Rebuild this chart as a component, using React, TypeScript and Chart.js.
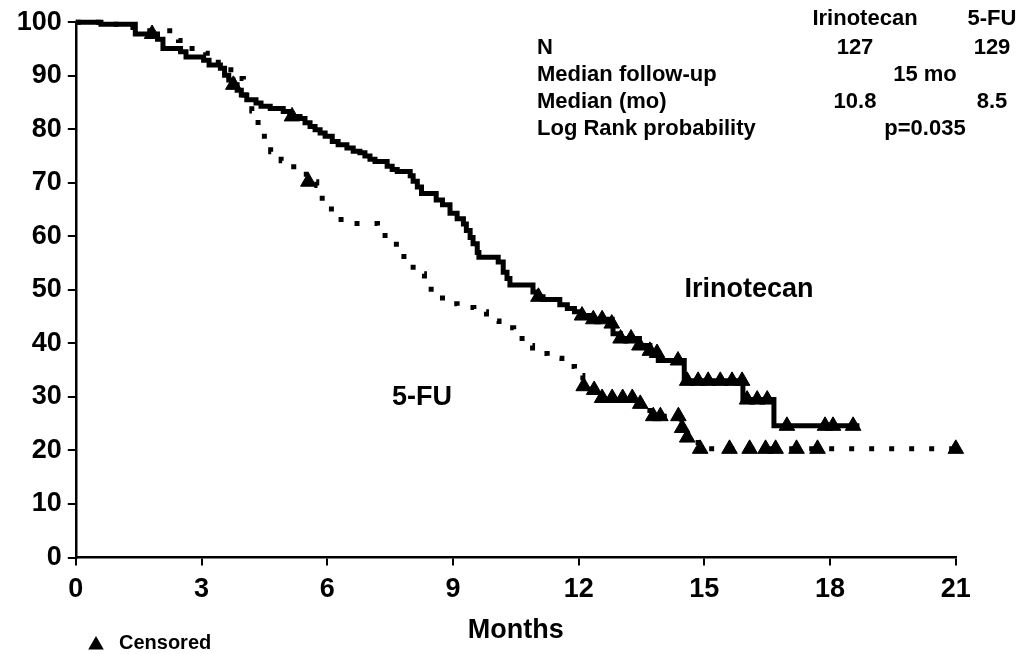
import React, { useEffect, useRef } from "react";
import { Chart, registerables } from "chart.js";

Chart.register(...registerables);

// Irinotecan Kaplan-Meier steps (months, % progression-free)
const irinoTimes = [0, 0.6, 1.42, 1.95, 2.08, 2.5, 2.63, 3.05, 3.18, 3.45, 3.55, 3.65, 3.75, 3.85, 3.95, 4.08, 4.3, 4.42, 4.64, 4.95, 5.11, 5.35, 5.47, 5.59, 5.71, 5.83, 5.95, 6.12, 6.26, 6.47, 6.62, 6.78, 6.9, 7.02, 7.14, 7.43, 7.55, 7.67, 7.98, 8.05, 8.15, 8.25, 8.6, 8.75, 8.93, 9.1, 9.25, 9.32, 9.41, 9.48, 9.58, 9.62, 10.08, 10.2, 10.29, 10.36, 10.91, 11.0, 11.15, 11.55, 11.73, 11.9, 12.05, 12.3, 12.8, 12.82, 13.0, 13.45, 13.7, 13.87, 13.9, 14.52, 15.92, 16.66, 18.7];
const irinoValues = [100, 99.6, 97.8, 96.8, 95.1, 94.5, 93.5, 92.9, 92.0, 91.4, 90.1, 89.2, 88.3, 87.3, 86.4, 85.5, 84.9, 84.3, 83.9, 83.3, 82.4, 82.0, 81.2, 80.5, 79.9, 79.3, 78.7, 77.7, 77.1, 76.5, 75.9, 75.6, 75.0, 74.4, 74.0, 73.1, 72.5, 72.1, 71.3, 70.3, 69.2, 68.0, 66.8, 65.9, 64.3, 63.3, 62.3, 61.1, 59.8, 58.6, 57.0, 56.1, 55.2, 53.3, 52.1, 50.9, 49.6, 48.7, 48.2, 47.2, 46.5, 45.9, 45.2, 44.5, 43.7, 41.8, 40.9, 39.6, 38.6, 38.2, 36.8, 33.0, 29.5, 24.6, 24.6];

// 5-FU Kaplan-Meier steps
const fuTimes = [0, 0.6, 1.3, 1.6, 2.45, 2.7, 3.1, 3.4, 3.7, 4.0, 4.2, 4.35, 4.5, 4.65, 4.9, 5.2, 5.5, 5.75, 5.88, 6.1, 6.33, 7.2, 7.38, 7.65, 7.83, 8.05, 8.32, 8.48, 8.75, 9.1, 9.5, 9.8, 10.1, 10.45, 10.65, 10.9, 11.25, 11.6, 11.9, 12.1, 12.3, 12.5, 13.4, 13.7, 14.45, 14.58, 14.85, 21];
const fuValues = [100, 99.6, 99.0, 98.4, 96.6, 95.1, 94.2, 92.5, 89.5, 86.4, 83.4, 80.8, 78.2, 75.8, 74.1, 73.0, 70.2, 69.5, 66.5, 64.5, 62.4, 61.7, 59.3, 57.8, 55.2, 53.0, 51.3, 49.1, 47.4, 46.7, 45.9, 44.2, 42.9, 41.8, 39.6, 38.1, 37.2, 35.7, 34.0, 32.0, 31.3, 29.8, 28.7, 26.4, 24.2, 22.4, 20.3, 20.3];

// Censored observations
const irinoCensTimes = [1.82, 3.76, 5.16, 11.04, 12.08, 12.35, 12.56, 12.79, 13.0, 13.25, 13.45, 13.7, 13.87, 14.37, 14.59, 14.85, 15.09, 15.38, 15.66, 15.9, 16.02, 16.26, 16.5, 16.97, 17.88, 18.07, 18.55];
const irinoCensValues = [97.8, 88.3, 82.4, 48.7, 45.2, 44.5, 44.5, 43.7, 40.9, 40.9, 39.6, 38.6, 38.2, 36.8, 33.0, 33.0, 33.0, 33.0, 33.0, 33.0, 29.5, 29.5, 29.5, 24.6, 24.6, 24.6, 24.6];
const fuCensTimes = [5.55, 12.12, 12.37, 12.56, 12.8, 13.05, 13.28, 13.47, 13.78, 13.95, 14.38, 14.47, 14.59, 14.9, 15.6, 16.08, 16.46, 16.7, 17.2, 17.7, 21.0];
const fuCensValues = [70.2, 32.0, 31.3, 29.8, 29.8, 29.8, 29.8, 28.7, 26.4, 26.4, 26.4, 24.2, 22.4, 20.3, 20.3, 20.3, 20.3, 20.3, 20.3, 20.3, 20.3];

// Table text
const tableHeaders = ["Irinotecan", "5-FU"];
const tableRows = ["N", "Median follow-up", "Median (mo)", "Log Rank probability"];
const tableCells = [["127", "129"], ["15 mo"], ["10.8", "8.5"], ["p=0.035"]];

const FONT = "'Liberation Sans', Arial, Helvetica, sans-serif";

const toXY = (xs: number[], ys: number[]) => xs.map((x, i) => ({ x, y: ys[i] }));

export default function App() {
  const ref = useRef<HTMLCanvasElement | null>(null);

  useEffect(() => {
    if (!ref.current) return;
    const annot = {
      id: "annot",
      afterDraw(chart: any) {
        const ctx = chart.ctx as CanvasRenderingContext2D;
        ctx.save();
        ctx.fillStyle = "#000";
        ctx.textBaseline = "middle";
        ctx.font = `bold 22px ${FONT}`;
        ctx.textAlign = "center";
        ctx.fillText(tableHeaders[0], 865, 19);
        ctx.fillText(tableHeaders[1], 992, 19);
        const rowY = [48, 75, 102, 129];
        ctx.textAlign = "left";
        tableRows.forEach((r, i) => ctx.fillText(r, 537, rowY[i]));
        ctx.textAlign = "center";
        tableCells.forEach((cells, i) => {
          if (cells.length === 2) {
            ctx.fillText(cells[0], 855, rowY[i]);
            ctx.fillText(cells[1], 992, rowY[i]);
          } else {
            ctx.fillText(cells[0], 925, rowY[i]);
          }
        });
        ctx.font = `bold 27px ${FONT}`;
        ctx.fillText("Irinotecan", 749, 290);
        ctx.fillText("5-FU", 422, 398);
        const tx = 96, ty = 645, r = 9;
        ctx.beginPath();
        ctx.moveTo(tx, ty - r);
        ctx.lineTo(tx + r * 0.866, ty + r / 2);
        ctx.lineTo(tx - r * 0.866, ty + r / 2);
        ctx.closePath();
        ctx.fill();
        ctx.font = `bold 20px ${FONT}`;
        ctx.textAlign = "left";
        ctx.fillText("Censored", 119, 643);
        ctx.restore();
      },
    };

    const tickFont = { family: FONT, size: 27, weight: "bold" as const };
    const chart = new Chart(ref.current, {
      type: "line",
      data: {
        datasets: [
          {
            label: "Irinotecan",
            data: toXY(irinoTimes, irinoValues),
            borderColor: "#000",
            borderWidth: 5,
            stepped: true,
            pointRadius: 0,
            fill: false,
            clip: 12,
          },
          {
            label: "5-FU",
            data: toXY(fuTimes, fuValues),
            borderColor: "#000",
            borderWidth: 5,
            borderDash: [5, 15],
            borderCapStyle: "butt",
            stepped: true,
            pointRadius: 0,
            fill: false,
            clip: 12,
          },
          {
            label: "Irinotecan censored",
            data: toXY(irinoCensTimes, irinoCensValues),
            showLine: false,
            pointStyle: "triangle",
            pointRadius: 9,
            pointBackgroundColor: "#000",
            pointBorderColor: "#000",
            pointBorderWidth: 1,
            clip: 12,
          },
          {
            label: "5-FU censored",
            data: toXY(fuCensTimes, fuCensValues),
            showLine: false,
            pointStyle: "triangle",
            pointRadius: 9,
            pointBackgroundColor: "#000",
            pointBorderColor: "#000",
            pointBorderWidth: 1,
            clip: 12,
          },
        ],
      },
      options: {
        animation: false,
        responsive: false,
        maintainAspectRatio: false,
        events: [],
        layout: { padding: { top: 18.5, right: 65.2, left: 0, bottom: 0 } },
        plugins: { legend: { display: false }, tooltip: { enabled: false } },
        scales: {
          x: {
            type: "linear",
            min: 0,
            max: 21,
            afterFit: (s: any) => {
              s.height = 96.5;
            },
            ticks: { stepSize: 3, color: "#000", font: tickFont, padding: 8 },
            grid: { drawOnChartArea: false, drawTicks: true, tickLength: 8, color: "#000", lineWidth: 2 },
            border: { display: true, color: "#000", width: 2.5 },
            title: {
              display: true,
              text: "Months",
              color: "#000",
              font: { family: FONT, size: 27, weight: "bold" },
              padding: { top: 0, bottom: 7 },
            },
          },
          y: {
            type: "linear",
            min: 0,
            max: 100,
            afterFit: (s: any) => {
              s.width = 75.8;
            },
            ticks: { stepSize: 10, color: "#000", font: tickFont, padding: 6 },
            grid: { drawOnChartArea: false, drawTicks: true, tickLength: 8, color: "#000", lineWidth: 2 },
            border: { display: true, color: "#000", width: 2.5 },
          },
        },
      },
      plugins: [annot],
    } as any);
    return () => chart.destroy();
  }, []);

  return (
    <div style={{ position: "fixed", left: 0, top: 0, width: 1021, height: 654, background: "#fff" }}>
      <canvas ref={ref} width={1021} height={654} style={{ width: 1021, height: 654 }} />
    </div>
  );
}
